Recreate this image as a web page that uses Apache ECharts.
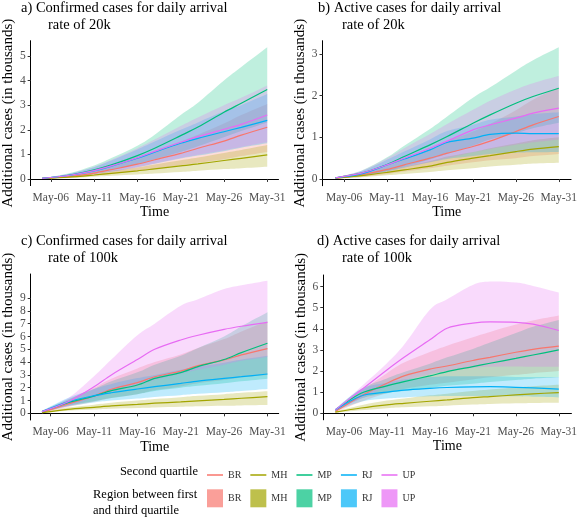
<!DOCTYPE html>
<html><head><meta charset="utf-8">
<script src="https://cdn.jsdelivr.net/npm/echarts@6/dist/echarts.min.js"></script>
<style>html,body{margin:0;padding:0;background:#fff}#c{width:580px;height:519px}</style>
</head><body><div id="c"></div><script>
// x values: day of May
const days = [5, 8, 11, 13, 16, 18, 21, 23, 26, 28, 31];
const tickDays = [6, 11, 16, 21, 26, 31];
const tickLabels = ['May-06', 'May-11', 'May-16', 'May-21', 'May-26', 'May-31'];
const regions = ['BR', 'MH', 'MP', 'RJ', 'UP'];
const colors = ['#F8766D', '#A3A500', '#00BF7D', '#00B0F6', '#E76BF3'];

// Panel a) Confirmed cases, 20k
const a_median = {
  BR: [0.02,0.09,0.24,0.38,0.60,0.78,1.04,1.25,1.54,1.78,2.10],
  MH: [0.02,0.07,0.16,0.23,0.33,0.41,0.53,0.61,0.75,0.84,0.98],
  MP: [0.02,0.15,0.37,0.57,0.95,1.25,1.76,2.11,2.71,3.08,3.64],
  RJ: [0.02,0.14,0.33,0.52,0.84,1.09,1.45,1.65,1.92,2.10,2.38],
  UP: [0.02,0.14,0.34,0.53,0.86,1.12,1.49,1.72,2.02,2.22,2.60]
};
const a_low = {
  BR: [0.01,0.05,0.13,0.20,0.32,0.42,0.56,0.66,0.80,0.93,1.10],
  MH: [0.01,0.04,0.09,0.13,0.18,0.22,0.28,0.33,0.40,0.44,0.50],
  MP: [0.01,0.10,0.25,0.38,0.60,0.80,1.10,1.33,1.70,1.95,2.30],
  RJ: [0.01,0.08,0.20,0.30,0.48,0.62,0.83,0.95,1.13,1.27,1.45],
  UP: [0.01,0.08,0.20,0.30,0.48,0.63,0.85,0.98,1.17,1.30,1.50]
};
const a_high = {
  BR: [0.03,0.14,0.36,0.56,0.90,1.15,1.52,1.80,2.25,2.60,3.05],
  MH: [0.03,0.10,0.23,0.33,0.47,0.59,0.76,0.87,1.06,1.18,1.38],
  MP: [0.03,0.22,0.55,0.85,1.35,1.80,2.60,3.10,4.00,4.55,5.35],
  RJ: [0.03,0.20,0.48,0.75,1.20,1.52,2.00,2.30,2.75,3.00,3.45],
  UP: [0.03,0.20,0.50,0.78,1.25,1.60,2.15,2.50,3.00,3.30,3.80]
};

// Panel b) Active cases, 20k
const b_median = {
  BR: [0.02,0.10,0.23,0.34,0.50,0.62,0.78,0.91,1.14,1.30,1.50],
  MH: [0.02,0.08,0.16,0.22,0.31,0.40,0.50,0.56,0.66,0.72,0.78],
  MP: [0.03,0.14,0.35,0.54,0.82,1.02,1.34,1.54,1.82,1.98,2.18],
  RJ: [0.03,0.12,0.34,0.48,0.70,0.88,0.98,1.07,1.10,1.09,1.09],
  UP: [0.03,0.14,0.34,0.50,0.74,0.91,1.18,1.30,1.46,1.58,1.70]
};
const b_low = {
  BR: [0.01,0.05,0.12,0.18,0.26,0.32,0.40,0.45,0.50,0.55,0.60],
  MH: [0.01,0.04,0.09,0.12,0.17,0.21,0.26,0.30,0.34,0.37,0.39],
  MP: [0.02,0.08,0.20,0.30,0.47,0.60,0.80,0.95,1.10,1.22,1.35],
  RJ: [0.02,0.07,0.18,0.27,0.40,0.48,0.55,0.60,0.63,0.64,0.65],
  UP: [0.02,0.08,0.19,0.28,0.41,0.50,0.64,0.72,0.82,0.88,0.95]
};
const b_high = {
  BR: [0.03,0.14,0.33,0.48,0.72,0.90,1.14,1.32,1.65,1.90,2.20],
  MH: [0.03,0.11,0.22,0.30,0.43,0.54,0.65,0.74,0.85,0.93,1.00],
  MP: [0.04,0.20,0.52,0.80,1.20,1.50,1.95,2.20,2.60,2.85,3.16],
  RJ: [0.04,0.18,0.46,0.66,0.95,1.15,1.30,1.42,1.50,1.56,1.60],
  UP: [0.04,0.20,0.50,0.74,1.08,1.32,1.66,1.88,2.15,2.30,2.47]
};

// Panel c) Confirmed cases, 100k
const c_median = {
  BR: [0.05,0.73,1.35,1.88,2.40,2.86,3.30,3.72,4.17,4.56,5.05],
  MH: [0.05,0.31,0.47,0.58,0.70,0.79,0.89,0.97,1.09,1.18,1.30],
  MP: [0.13,0.83,1.35,1.77,2.21,2.73,3.18,3.65,4.20,4.74,5.47],
  RJ: [0.13,0.90,1.38,1.61,1.90,2.08,2.34,2.52,2.73,2.86,3.07],
  UP: [0.13,0.90,2.08,3.00,4.20,5.00,5.73,6.10,6.56,6.80,7.10]
};
const c_low = {
  BR: [0.03,0.50,0.90,1.20,1.50,1.80,2.10,2.35,2.60,2.80,3.00],
  MH: [0.03,0.20,0.30,0.36,0.42,0.46,0.51,0.55,0.59,0.62,0.65],
  MP: [0.08,0.60,0.95,1.20,1.50,1.75,2.00,2.15,2.35,2.50,2.70],
  RJ: [0.08,0.55,0.85,1.00,1.15,1.28,1.42,1.52,1.65,1.75,1.90],
  UP: [0.10,0.55,1.20,1.65,2.20,2.60,3.10,3.40,3.80,4.10,4.40]
};
const c_high = {
  BR: [0.10,1.05,2.00,2.70,3.50,4.00,4.60,5.10,5.80,6.40,7.20],
  MH: [0.08,0.45,0.68,0.83,1.00,1.12,1.26,1.37,1.50,1.60,1.72],
  MP: [0.20,1.10,1.90,2.50,3.20,3.80,4.50,5.10,6.00,6.80,7.90],
  RJ: [0.20,1.20,1.90,2.30,2.75,3.00,3.40,3.65,3.95,4.20,4.50],
  UP: [0.20,1.17,2.90,4.20,6.10,7.00,8.40,8.90,9.70,10.00,10.36]
};

// Panel d) Active cases, 100k
const d_median = {
  BR: [0.08,0.82,1.42,1.77,2.09,2.24,2.50,2.65,2.89,3.03,3.18],
  MH: [0.05,0.25,0.40,0.47,0.57,0.63,0.74,0.79,0.87,0.92,0.98],
  MP: [0.16,0.95,1.30,1.50,1.77,1.97,2.21,2.37,2.60,2.76,3.00],
  RJ: [0.16,0.82,1.00,1.10,1.18,1.22,1.25,1.26,1.23,1.20,1.14],
  UP: [0.16,1.10,2.05,2.65,3.48,4.03,4.27,4.33,4.31,4.22,3.92]
};
const d_low = {
  BR: [0.04,0.55,0.95,1.15,1.35,1.45,1.60,1.70,1.82,1.90,2.00],
  MH: [0.02,0.14,0.24,0.28,0.33,0.36,0.41,0.44,0.47,0.49,0.50],
  MP: [0.10,0.70,0.95,1.05,1.20,1.30,1.40,1.48,1.58,1.64,1.70],
  RJ: [0.10,0.55,0.70,0.75,0.80,0.82,0.82,0.82,0.80,0.78,0.75],
  UP: [0.10,0.70,1.25,1.55,1.85,2.00,2.15,2.20,2.22,2.20,2.20]
};
const d_high = {
  BR: [0.12,1.05,1.90,2.40,2.90,3.20,3.60,3.85,4.20,4.40,4.63],
  MH: [0.08,0.38,0.60,0.70,0.85,0.93,1.05,1.12,1.22,1.28,1.35],
  MP: [0.20,1.15,1.65,1.95,2.35,2.65,3.05,3.35,3.80,4.10,4.42],
  RJ: [0.20,1.15,1.45,1.60,1.70,1.75,1.75,1.75,1.72,1.72,1.72],
  UP: [0.20,1.26,2.37,3.24,4.90,5.40,6.08,6.24,6.19,6.03,5.72]
};

const panelTitles = [
  ['a) Confirmed cases for daily arrival', 'rate of 20k'],
  ['b) Active cases for daily arrival', 'rate of 20k'],
  ['c) Confirmed cases for daily arrival', 'rate of 100k'],
  ['d) Active cases for daily arrival', 'rate of 100k']
];
const yTicks = [[0,1,2,3,4,5], [0,1,2,3], [0,1,2,3,4,5,6,7,8,9], [0,1,2,3,4,5,6]];
const panelData = [[a_median,a_low,a_high],[b_median,b_low,b_high],[c_median,c_low,c_high],[d_median,d_low,d_high]];

// layout
const FONT = '"Liberation Serif", "Times New Roman", serif';
const layout = [
  {grid:{left:30.5, top:40.7, width:248, height:144.9}, xmin:3.67, xmax:32.3, ymin:-0.27, ymax:5.62, t1:[21,1], t2:[48,18]},
  {grid:{left:322.5, top:40.7, width:250, height:145}, xmin:3.48, xmax:32.43, ymin:-0.16, ymax:3.32, t1:[318,1], t2:[342,18]},
  {grid:{left:30.7, top:274, width:248, height:146}, xmin:3.7, xmax:32.3, ymin:-0.52, ymax:10.88, t1:[21,234], t2:[48,251]},
  {grid:{left:323.3, top:275, width:249, height:144.8}, xmin:3.6, xmax:32.47, ymin:-0.31, ymax:6.55, t1:[317,234], t2:[342,251]}
];

function rgba(hex, a) {
  const n = parseInt(hex.slice(1), 16);
  return `rgba(${(n>>16)&255},${(n>>8)&255},${n&255},${a})`;
}

// smooth cubic path through pixel points (Catmull-Rom style, x-clamped)
function curveSegs(pts, t) {
  let s = '';
  for (let i = 0; i < pts.length - 1; i++) {
    const p0 = pts[Math.max(0, i - 1)], p1 = pts[i], p2 = pts[i + 1], p3 = pts[Math.min(pts.length - 1, i + 2)];
    let c1x = p1[0] + (p2[0] - p0[0]) * t, c1y = p1[1] + (p2[1] - p0[1]) * t;
    let c2x = p2[0] - (p3[0] - p1[0]) * t, c2y = p2[1] - (p3[1] - p1[1]) * t;
    const lo = Math.min(p1[0], p2[0]), hi = Math.max(p1[0], p2[0]);
    c1x = Math.min(hi, Math.max(lo, c1x)); c2x = Math.min(hi, Math.max(lo, c2x));
    s += ` C ${c1x} ${c1y} ${c2x} ${c2y} ${p2[0]} ${p2[1]}`;
  }
  return s;
}

const grids = [], xAxes = [], yAxes = [], series = [], titles = [];
layout.forEach((L, p) => {
  grids.push(Object.assign({containLabel:false}, L.grid));
  xAxes.push({
    type:'value', gridIndex:p, min:L.xmin, max:L.xmax,
    name:'Time', nameLocation:'middle', nameGap:20,
    nameTextStyle:{fontFamily:FONT, fontSize:14, color:'#000'},
    splitLine:{show:false},
    axisLine:{lineStyle:{color:'#000', width:1}},
    axisTick:{length:3, lineStyle:{color:'#333'}, customValues:tickDays},
    axisLabel:{customValues:tickDays, margin:6, fontFamily:FONT, fontSize:11.5, color:'#4d4d4d',
      formatter:v => tickLabels[tickDays.indexOf(v)]}
  });
  yAxes.push({
    type:'value', gridIndex:p, min:L.ymin, max:L.ymax,
    name:'Additional cases (in thousands)', nameLocation:'middle', nameGap:14,
    nameTextStyle:{fontFamily:FONT, fontSize:15, color:'#000'},
    splitLine:{show:false},
    axisLine:{show:true, lineStyle:{color:'#000', width:1}},
    axisTick:{show:true, length:3, lineStyle:{color:'#333'}, customValues:yTicks[p]},
    axisLabel:{customValues:yTicks[p], margin:5, fontFamily:FONT, fontSize:11.5, color:'#4d4d4d'}
  });
  titles.push({text:panelTitles[p][0], left:L.t1[0], top:L.t1[1], padding:0,
    textStyle:{fontFamily:FONT, fontSize:14.5, fontWeight:'normal', color:'#000'}});
  titles.push({text:panelTitles[p][1], left:L.t2[0], top:L.t2[1], padding:0,
    textStyle:{fontFamily:FONT, fontSize:14.5, fontWeight:'normal', color:'#000'}});

  const [med, lo, hi] = panelData[p];
  regions.forEach((r, i) => {
    const rows = days.map((d, k) => [d, lo[r][k], hi[r][k]]);
    series.push({
      type:'custom', name:r + '_band', xAxisIndex:p, yAxisIndex:p, silent:true, z:1,
      itemStyle:{color:rgba(colors[i], 0.7)},
      encode:{x:0, y:[1, 2]},
      data:rows,
      renderItem:(params, api) => {
        if (params.dataIndex !== 0) return null;
        const up = rows.map(row => api.coord([row[0], row[2]]));
        const dn = rows.map(row => api.coord([row[0], row[1]])).reverse();
        const d = `M ${up[0][0]} ${up[0][1]}` + curveSegs(up, 0.18) +
          ` L ${dn[0][0]} ${dn[0][1]}` + curveSegs(dn, 0.18) + ' Z';
        return {type:'path', shape:{pathData:d}, style:{fill:rgba(colors[i], 0.25), stroke:null}};
      }
    });
  });
  regions.forEach((r, i) => {
    series.push({
      type:'line', name:r, xAxisIndex:p, yAxisIndex:p,
      data:days.map((d, k) => [d, med[r][k]]), symbol:'none', smooth:0.3,
      lineStyle:{color:colors[i], width:1.2}, itemStyle:{color:colors[i]}, z:3, silent:true
    });
  });
});

titles.push({text:'Second quartile', right:382, top:465, padding:0,
  textStyle:{fontFamily:FONT, fontSize:12.5, fontWeight:'normal', color:'#000'}});
titles.push({text:'Region between first\nand third quartile', left:93, top:487, padding:0,
  textStyle:{fontFamily:FONT, fontSize:12.5, fontWeight:'normal', color:'#000', lineHeight:16}});

const option = {
  animation:false,
  backgroundColor:'#fff',
  title:titles,
  grid:grids, xAxis:xAxes, yAxis:yAxes, series,
  legend:[
    {left:207, top:468, padding:0, itemGap:9, itemWidth:16, itemHeight:1.5, icon:'rect',
     selectedMode:false,
     data:regions.map((r, i) => ({name:r, itemStyle:{color:colors[i]}})),
     textStyle:{fontFamily:FONT, fontSize:10, color:'#333', lineHeight:14}},
    {left:207, top:489.3, padding:0, itemGap:9, itemWidth:16, itemHeight:18, icon:'rect',
     selectedMode:false,
     data:regions.map((r, i) => ({name:r + '_band', itemStyle:{color:rgba(colors[i], 0.7)}})),
     formatter:n => n.replace('_band', ''),
     textStyle:{fontFamily:FONT, fontSize:10, color:'#333'}}
  ]
};
const chart = echarts.init(document.getElementById('c'), null, {renderer:'canvas'});
chart.setOption(option);
</script></body></html>
